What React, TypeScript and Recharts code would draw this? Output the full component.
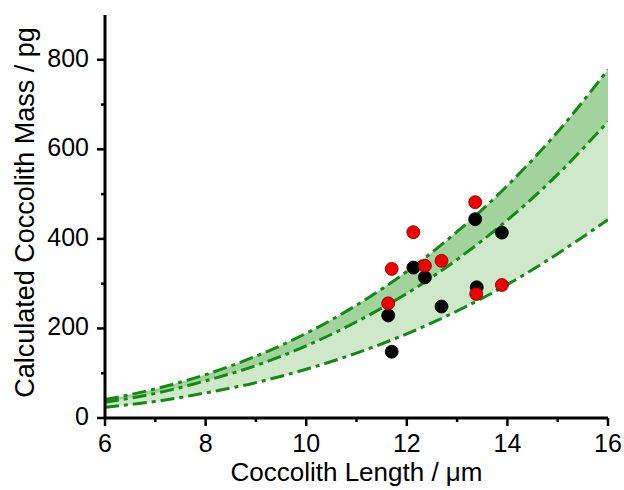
import React from 'react';
import {
  ComposedChart,
  Area,
  Line,
  Scatter,
  XAxis,
  YAxis,
} from 'recharts';

// curve values at each µm
const lengths = [6, 7, 8, 9, 10, 11, 12, 13, 14, 15, 16];
const lowerMass = [24, 37, 56, 79, 109, 145, 188, 239, 298, 367, 443];
const middleMass = [35, 55, 83, 117, 161, 215, 278, 354, 442, 544, 662];
const upperMass = [41, 65, 97, 138, 189, 252, 327, 416, 519, 639, 778];

// measured coccoliths
const blackLength = [13.36, 13.89, 12.13, 12.36, 13.39, 12.69, 11.63, 11.7];
const blackMass = [444, 414, 336, 314, 292, 249, 229, 148];
const redLength = [13.36, 12.13, 11.7, 12.36, 12.69, 11.63, 13.38, 13.89];
const redMass = [482, 415, 333, 340, 351, 256, 277, 297];

const xTicks = [6, 7, 8, 9, 10, 11, 12, 13, 14, 15, 16];
const yTicks = [0, 100, 200, 300, 400, 500, 600, 700, 800];

const GREEN = '#138a13';
const FONT = '"Liberation Sans", Arial, sans-serif';

const curveData = lengths.map((x, i) => ({
  x,
  lo: lowerMass[i],
  mid: middleMass[i],
  hi: upperMass[i],
}));
const blackData = blackLength.map((x, i) => ({ x, y: blackMass[i] }));
const redData = redLength.map((x, i) => ({ x, y: redMass[i] }));

const XTick = (props: any) => {
  const { x, y, payload } = props;
  const major = payload.value % 2 === 0;
  return (
    <g>
      <line x1={x} x2={x} y1={y} y2={y + (major ? 8 : 4)} stroke="#000" strokeWidth={2.5} />
      {major && (
        <text x={x} y={y + 34} textAnchor="middle" fontSize={25} fontFamily={FONT} fill="#000">
          {payload.value}
        </text>
      )}
    </g>
  );
};

const YTick = (props: any) => {
  const { x, y, payload } = props;
  const major = payload.value % 200 === 0;
  return (
    <g>
      <line x1={x} x2={x - (major ? 8 : 4)} y1={y} y2={y} stroke="#000" strokeWidth={2.5} />
      {major && (
        <text x={x - 16} y={y + 7} textAnchor="end" fontSize={25} fontFamily={FONT} fill="#000">
          {payload.value}
        </text>
      )}
    </g>
  );
};

const dot = (fill: string, stroke: string) => (props: any) => (
  <circle cx={props.cx} cy={props.cy} r={6.5} fill={fill} stroke={stroke} strokeWidth={0.8} />
);

export default function App() {
  return (
    <div style={{ position: 'absolute', left: 0, top: 0, background: '#fff' }}>
      <ComposedChart
        width={624}
        height={490}
        data={curveData}
        margin={{ top: 15, right: 16, left: 0, bottom: 0 }}
      >
        <XAxis
          dataKey="x"
          type="number"
          domain={[6, 16]}
          ticks={xTicks}
          interval={0}
          height={72}
          tickSize={0}
          tickMargin={0}
          tickLine={false}
          tick={<XTick />}
          axisLine={{ stroke: '#000', strokeWidth: 3 }}
          allowDataOverflow
          label={{
            content: ({ viewBox }: any) => (
              <text
                x={viewBox.x + viewBox.width / 2}
                y={viewBox.y + 63}
                textAnchor="middle"
                fontSize={26}
                fontFamily={FONT}
                fill="#000"
              >
                Coccolith Length / μm
              </text>
            ),
          }}
        />
        <YAxis
          type="number"
          domain={[0, 900]}
          ticks={yTicks}
          interval={0}
          width={105}
          tickSize={0}
          tickMargin={0}
          tickLine={false}
          tick={<YTick />}
          axisLine={{ stroke: '#000', strokeWidth: 3 }}
          allowDataOverflow
          label={{
            content: ({ viewBox }: any) => {
              const cx = viewBox.x + 34;
              const cy = viewBox.y + viewBox.height / 2 - 4;
              return (
                <text
                  x={cx}
                  y={cy}
                  transform={`rotate(-90 ${cx} ${cy})`}
                  textAnchor="middle"
                  fontSize={27}
                  fontFamily={FONT}
                  fill="#000"
                >
                  Calculated Coccolith Mass / pg
                </text>
              );
            },
          }}
        />
        <Area
          type="monotone"
          dataKey={(d: any) => [d.lo, d.mid]}
          fill="#cfe8ca"
          fillOpacity={1}
          stroke="none"
          isAnimationActive={false}
        />
        <Area
          type="monotone"
          dataKey={(d: any) => [d.mid, d.hi]}
          fill="#a2d39c"
          fillOpacity={1}
          stroke="none"
          isAnimationActive={false}
        />
        {['lo', 'mid', 'hi'].map((k) => (
          <Line
            key={k}
            type="monotone"
            dataKey={k}
            stroke={GREEN}
            strokeWidth={3}
            strokeDasharray="14 5 4 5"
            dot={false}
            activeDot={false}
            isAnimationActive={false}
          />
        ))}
        <Scatter data={blackData} dataKey="y" shape={dot('#000', '#000')} isAnimationActive={false} />
        <Scatter data={redData} dataKey="y" shape={dot('#ee0000', '#7a0000')} isAnimationActive={false} />
      </ComposedChart>
    </div>
  );
}
